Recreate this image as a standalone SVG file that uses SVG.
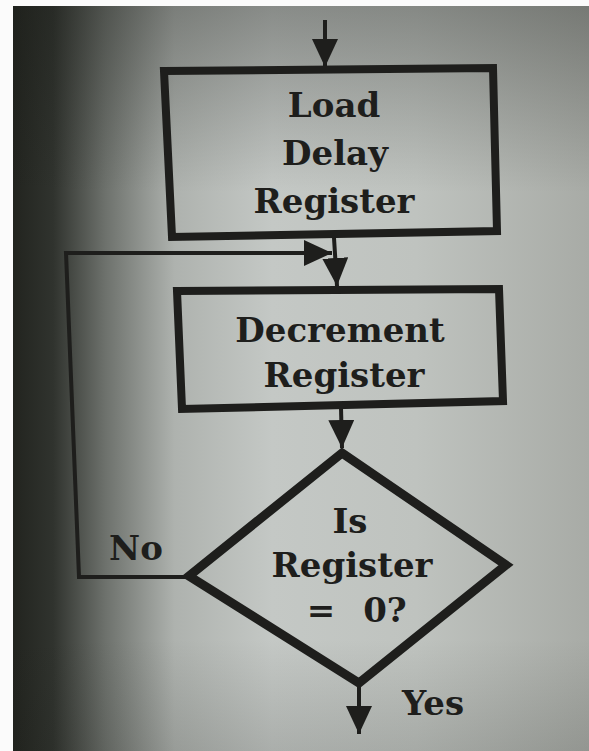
<svg xmlns="http://www.w3.org/2000/svg" width="589" height="751" viewBox="0 0 589 751">
  <defs>
    <linearGradient id="paper" x1="0" y1="0" x2="1" y2="0">
      <stop offset="0" stop-color="#22241f"/>
      <stop offset="0.07" stop-color="#30332e"/>
      <stop offset="0.16" stop-color="#6d716c"/>
      <stop offset="0.28" stop-color="#aeb2ae"/>
      <stop offset="0.45" stop-color="#c4c8c5"/>
      <stop offset="0.7" stop-color="#bfc3bf"/>
      <stop offset="1" stop-color="#a8aba6"/>
    </linearGradient>
    <linearGradient id="shadeTop" x1="0" y1="0" x2="0" y2="1">
      <stop offset="0" stop-color="#1a1c18" stop-opacity="0.35"/>
      <stop offset="0.25" stop-color="#1a1c18" stop-opacity="0"/>
      <stop offset="0.85" stop-color="#1a1c18" stop-opacity="0"/>
      <stop offset="1" stop-color="#1a1c18" stop-opacity="0.15"/>
    </linearGradient>
    <marker id="ah" viewBox="0 0 28 26" refX="28" refY="13" markerWidth="28" markerHeight="26" markerUnits="userSpaceOnUse" orient="auto">
      <path d="M0,0 L28,13 L0,26 Z" fill="#1e1e1c"/>
    </marker>
    <style>
      .box { fill: none; stroke: #1e1e1c; stroke-width: 8; stroke-linejoin: miter; }
      .dia { fill: none; stroke: #1e1e1c; stroke-width: 9; stroke-linejoin: miter; }
      .wire { fill: none; stroke: #1e1e1c; stroke-width: 4; }
      .lbl { font-family: "DejaVu Serif", "Liberation Serif", serif; font-weight: bold; font-size: 34px; fill: #1e1e1c; text-anchor: middle; }
    </style>
  </defs>

  <rect x="0" y="0" width="589" height="751" fill="#fbfbfb"/>
  <rect x="13" y="6" width="576" height="745" fill="url(#paper)"/>
  <rect x="13" y="6" width="576" height="745" fill="url(#shadeTop)"/>

  <g id="connectors">
    <line class="wire" x1="325" y1="20" x2="325" y2="67" marker-end="url(#ah)"/>
    <line class="wire" x1="334" y1="238" x2="337" y2="286" marker-end="url(#ah)"/>
    <line class="wire" x1="341" y1="408" x2="342" y2="448" marker-end="url(#ah)"/>
    <polyline class="wire" points="186,577 79,577 66,253 332,253" marker-end="url(#ah)"/>
    <line class="wire" x1="359" y1="686" x2="359" y2="734" marker-end="url(#ah)"/>
  </g>

  <g id="load">
    <polygon class="box" points="164,71 493,68 497,231 172,237"/>
    <text class="lbl" x="334" y="117">Load</text>
    <text class="lbl" x="335" y="165">Delay</text>
    <text class="lbl" x="334" y="213">Register</text>
  </g>

  <g id="decrement">
    <polygon class="box" points="177,291 499,289 503,401 182,409"/>
    <text class="lbl" x="340" y="342">Decrement</text>
    <text class="lbl" x="344" y="387">Register</text>
  </g>

  <g id="decision">
    <polygon class="dia" points="342,453 506,565 359,683 189,576"/>
    <text class="lbl" x="350" y="533">Is</text>
    <text class="lbl" x="352" y="577">Register</text>
    <text class="lbl" y="622"><tspan x="321">=</tspan><tspan x="385">0?</tspan></text>
  </g>

  <g id="labels">
    <text class="lbl" x="136" y="560">No</text>
    <text class="lbl" x="433" y="715">Yes</text>
  </g>
</svg>
